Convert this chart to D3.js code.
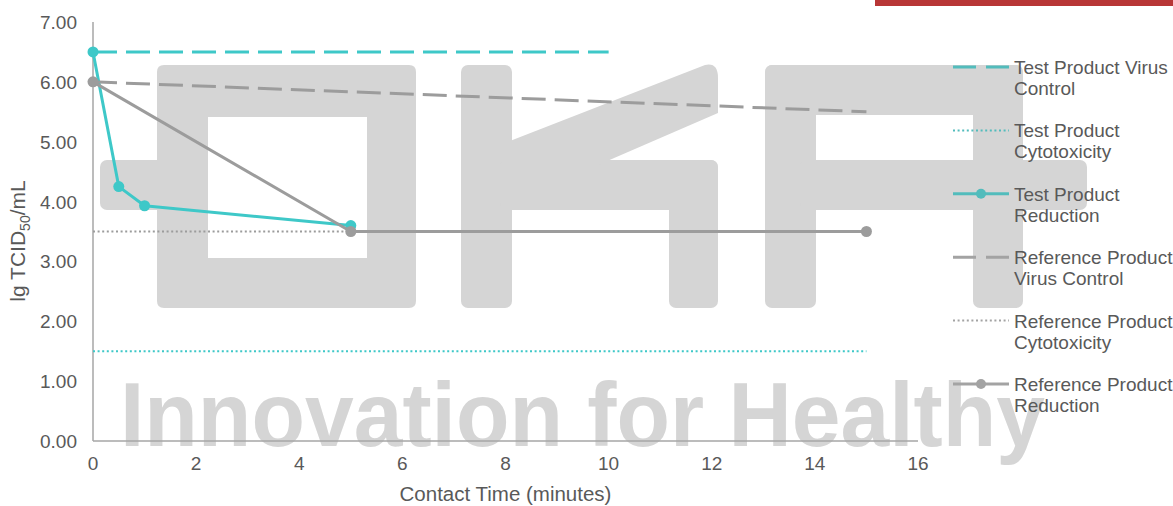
<!DOCTYPE html>
<html><head><meta charset="utf-8">
<script src="https://cdn.jsdelivr.net/npm/d3@7"></script>
<style>
html,body{margin:0;padding:0;background:#fff;}
svg{display:block;font-family:"Liberation Sans",Arial,sans-serif;}
</style></head>
<body><svg id="c" width="1173" height="506"></svg>
<script>
// ---- data ----
const xTicks = [0, 2, 4, 6, 8, 10, 12, 14, 16];
const yTicks = [0, 1, 2, 3, 4, 5, 6, 7];

const testVirusControlTime = [0, 10];
const testVirusControlValue = [6.5, 6.5];
const testCytotoxicityTime = [0, 15];
const testCytotoxicityValue = [1.5, 1.5];
const testReductionTime = [0, 0.5, 1, 5];
const testReductionValue = [6.5, 4.25, 3.93, 3.6];

const refVirusControlTime = [0, 15];
const refVirusControlValue = [6.0, 5.5];
const refCytotoxicityTime = [0, 5];
const refCytotoxicityValue = [3.5, 3.5];
const refReductionTime = [0, 5, 15];
const refReductionValue = [6.0, 3.5, 3.5];

const legendLabels = [
  ["Test Product Virus", "Control"],
  ["Test Product", "Cytotoxicity"],
  ["Test Product", "Reduction"],
  ["Reference Product", "Virus Control"],
  ["Reference Product", "Cytotoxicity"],
  ["Reference Product", "Reduction"]
];
const xTitle = "Contact Time (minutes)";
const watermarkText = "Innovation for Healthy";

// ---- styles ----
const TEAL = "#3ec8c8", TEAL_L = "#52bcbc", GRAY = "#9c9c9c", GRAY_L = "#a3a3a3";
const TXT = "#595959";
const styles = [
  {color: TEAL, dash: "24,9", w: 3, marker: false, lc: TEAL_L},
  {color: TEAL, dash: "2,2.6", w: 2, marker: false, lc: TEAL_L},
  {color: TEAL, dash: null, w: 3, marker: true, lc: TEAL_L},
  {color: GRAY, dash: "24,9", w: 3, marker: false, lc: GRAY_L},
  {color: GRAY, dash: "2,2.6", w: 2, marker: false, lc: GRAY_L},
  {color: GRAY, dash: null, w: 3, marker: true, lc: GRAY_L}
];
const series = [
  [testVirusControlTime, testVirusControlValue],
  [testCytotoxicityTime, testCytotoxicityValue],
  [testReductionTime, testReductionValue],
  [refVirusControlTime, refVirusControlValue],
  [refCytotoxicityTime, refCytotoxicityValue],
  [refReductionTime, refReductionValue]
];

const svg = d3.select("#c");
const x = d3.scaleLinear().domain([0, 16]).range([93, 918]);
const y = d3.scaleLinear().domain([0, 7]).range([441, 22]);

// ---- watermark (decorative) ----
const wm = svg.append("g").attr("fill", "#d5d5d5");
const rr = (x0, y0, x1, y1) => wm.append("rect").attr("x", x0).attr("y", y0)
  .attr("width", x1 - x0).attr("height", y1 - y0).attr("rx", 7);
rr(100, 160, 170, 210);
wm.append("path").attr("fill-rule", "evenodd")
  .attr("d", "M164,65 H409 Q416,65 416,72 V301 Q416,308 409,308 H164 Q157,308 157,301 V72 Q157,65 164,65 Z M208,117 V258 H367 V117 Z");
rr(461, 65, 512, 308);
rr(500, 160, 718, 210);
rr(669, 160, 718, 308);
wm.append("path").attr("d", "M505,143 L705,65 Q718,62 718,78 L718,113 L598,165 L505,165 Z");
rr(765, 65, 816, 308);
rr(765, 65, 1023, 115);
rr(973, 65, 1023, 308);
rr(800, 160, 1087, 210);
wm.append("text").attr("x", 120).attr("y", 446)
  .attr("font-size", 91).attr("font-weight", "bold")
  .attr("textLength", 925).attr("lengthAdjust", "spacingAndGlyphs")
  .text(watermarkText);

// red bar top-right
svg.append("rect").attr("x", 875).attr("y", 0).attr("width", 298).attr("height", 6).attr("fill", "#b83636");

// ---- axes ----
svg.append("line").attr("x1", x(0)).attr("x2", x(16)).attr("y1", y(0)).attr("y2", y(0))
  .attr("stroke", "#a6a6a6").attr("stroke-width", 1.5);
svg.append("line").attr("x1", x(0)).attr("x2", x(0)).attr("y1", y(0)).attr("y2", y(7))
  .attr("stroke", "#a6a6a6").attr("stroke-width", 1.5);

svg.append("g").selectAll("text").data(xTicks).join("text")
  .attr("x", d => x(d)).attr("y", 470).attr("text-anchor", "middle")
  .attr("font-size", 19).attr("fill", TXT).text(d => d);
svg.append("g").selectAll("text").data(yTicks).join("text")
  .attr("x", 77).attr("y", d => y(d) + 7).attr("text-anchor", "end")
  .attr("font-size", 19).attr("fill", TXT).text(d => d3.format(".2f")(d));

svg.append("text").attr("x", (x(0) + x(16)) / 2).attr("y", 501).attr("text-anchor", "middle")
  .attr("font-size", 20.5).attr("fill", TXT).text(xTitle);
const yt = svg.append("text").attr("transform", `translate(25,241) rotate(-90)`)
  .attr("text-anchor", "middle").attr("font-size", 21).attr("fill", TXT);
yt.append("tspan").text("lg TCID");
yt.append("tspan").attr("font-size", 14).attr("dy", 5).text("50");
yt.append("tspan").attr("dy", -5).text("/mL");

// ---- series ----
const line = d3.line().x(d => x(d[0])).y(d => y(d[1]));
series.forEach((s, i) => {
  const st = styles[i];
  const pts = s[0].map((t, k) => [t, s[1][k]]);
  svg.append("path").datum(pts).attr("d", line).attr("fill", "none")
    .attr("stroke", st.color).attr("stroke-width", st.w)
    .attr("stroke-dasharray", st.dash).attr("stroke-linejoin", "round");
  if (st.marker) {
    svg.append("g").selectAll("circle").data(pts).join("circle")
      .attr("cx", d => x(d[0])).attr("cy", d => y(d[1])).attr("r", 5.5).attr("fill", st.color);
  }
});

// ---- legend ----
const lg = svg.append("g");
legendLabels.forEach((lab, i) => {
  const st = styles[i];
  const cy = 67 + i * 63.4;
  lg.append("line").attr("x1", 953).attr("x2", 1009).attr("y1", cy).attr("y2", cy)
    .attr("stroke", st.lc).attr("stroke-width", st.w)
    .attr("stroke-dasharray", st.dash ? (st.w === 3 ? "23,10" : "2,2.6") : null);
  if (st.marker) lg.append("circle").attr("cx", 981).attr("cy", cy).attr("r", 5).attr("fill", st.lc);
  lg.append("text").attr("x", 1014).attr("y", cy + 7).attr("font-size", 19).attr("fill", TXT).text(lab[0]);
  lg.append("text").attr("x", 1014).attr("y", cy + 28).attr("font-size", 19).attr("fill", TXT).text(lab[1]);
});
</script></body></html>
